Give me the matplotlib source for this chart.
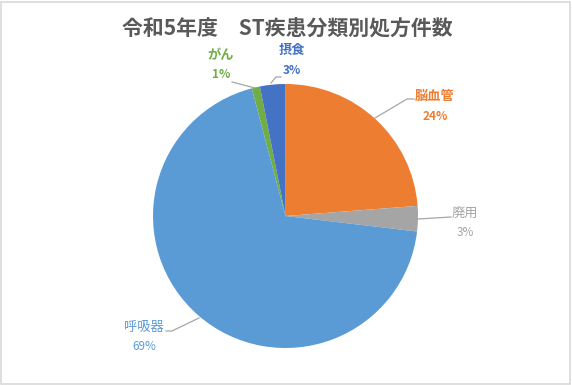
import matplotlib.pyplot as plt
from matplotlib.patches import Rectangle
from matplotlib.lines import Line2D

plt.rcParams['font.family'] = ['Noto Sans CJK JP', 'DejaVu Sans']

# data
categories = ['脳血管', '廃用', '呼吸器', 'がん', '摂食']
shares = [23.8, 3.1, 69.1, 1.0, 3.1]
pct_labels = ['24%', '3%', '69%', '1%', '3%']
colors = ['#ED7D31', '#A5A5A5', '#5B9BD5', '#70AD47', '#4472C4']
title = '令和5年度　ST疾患分類別処方件数'

W, H = 572, 385
fig = plt.figure(figsize=(W / 100, H / 100), dpi=100)


def px(x, y):
    return x / W, 1 - y / H


# pie area
left, top, right, bottom = 153, 84, 418, 348
ax = fig.add_axes([left / W, 1 - bottom / H, (right - left) / W, (bottom - top) / H])
ax.pie(shares, colors=colors, startangle=90, counterclock=False,
       wedgeprops=dict(linewidth=0))
ax.set_aspect('auto')
ax.set_xlim(-1, 1)
ax.set_ylim(-1, 1)
ax.axis('off')

# title
fig.text(*px(287, 28), title, ha='center', va='center', fontsize=15,
         fontweight='bold', color='#595959')

# labels: name position, leader polyline, bold
label_pos = [(435, 96), (465, 213), (144, 327), (221, 55), (292, 50)]
bold = [True, False, False, True, True]
leaders = [
    [(375, 118), (407, 99), (414, 99)],
    [(418, 219), (451, 217)],
    [(199, 318), (172, 331), (166, 331)],
    [(232, 82), (255, 88)],
    [(271, 83), (276, 77), (281, 77)],
]
for name, pct, c, (x, y), b, line in zip(categories, pct_labels, colors,
                                         label_pos, bold, leaders):
    w = 'bold' if b else 'normal'
    fig.text(*px(x, y), name, ha='center', va='center', fontsize=9.5,
             color=c, fontweight=w)
    fig.text(*px(x, y + 20), pct, ha='center', va='center', fontsize=8.5,
             color=c, fontweight=w)
    xs = [p[0] / W for p in line]
    ys = [1 - p[1] / H for p in line]
    fig.add_artist(Line2D(xs, ys, color='#A6A6A6', lw=0.9))

# outer frame
fig.add_artist(Rectangle((0.002, 0.003), 0.995, 0.993, transform=fig.transFigure,
                         fill=False, edgecolor='#D9D9D9', lw=1.2))

fig.savefig('out.png', dpi=100)
